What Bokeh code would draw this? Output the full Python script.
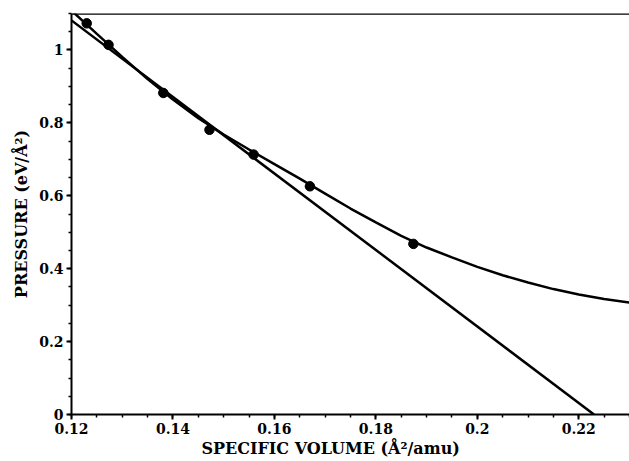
from bokeh.plotting import figure
from bokeh.models import FixedTicker, Span, Title, Range1d
from bokeh.embed import file_html
from bokeh.resources import INLINE

# measured data points
vol_pts = [0.1230, 0.1273, 0.1381, 0.1472, 0.1559, 0.1670, 0.1874]
pres_pts = [1.073, 1.014, 0.882, 0.781, 0.713, 0.626, 0.468]

# fitted curve
curve_x = [0.120, 0.125, 0.130, 0.135, 0.140, 0.145, 0.150, 0.155, 0.160, 0.165,
           0.170, 0.175, 0.180, 0.185, 0.190, 0.195, 0.200, 0.205, 0.210, 0.215,
           0.220, 0.225, 0.230]
curve_y = [1.108, 1.044, 0.981, 0.920, 0.864, 0.813, 0.768, 0.727, 0.687, 0.647,
           0.606, 0.565, 0.527, 0.490, 0.458, 0.431, 0.405, 0.382, 0.362, 0.344,
           0.329, 0.317, 0.307]

# straight line (linear fit)
line_x = [0.120, 0.223]
line_y = [1.081, 0.0]

x_ticks = [0.12, 0.14, 0.16, 0.18, 0.20, 0.22]
x_labels = ["0.12", "0.14", "0.16", "0.18", "0.2", "0.22"]
y_ticks = [0.0, 0.2, 0.4, 0.6, 0.8, 1.0]
y_labels = ["0", "0.2", "0.4", "0.6", "0.8", "1"]

FONT = "DejaVu Serif"

p = figure(width=629, height=461, output_backend="svg", toolbar_location=None,
           x_range=Range1d(0.12, 0.23), y_range=Range1d(0.0, 1.1),
           min_border_left=71, min_border_right=0, min_border_top=13,
           min_border_bottom=47)
p.outline_line_color = None
p.grid.visible = False
p.background_fill_color = "white"
p.border_fill_color = "white"

p.line(curve_x, curve_y, line_color="black", line_width=2.5)
p.line(line_x, line_y, line_color="black", line_width=2.5)
p.scatter(vol_pts, pres_pts, size=9.5, color="black", marker="circle")

p.add_layout(Span(location=1.1, dimension="width", line_color="black", line_width=2.5))

xminor = [round(0.12 + 0.005 * i, 4) for i in range(23)]
yminor = [round(0.05 * i, 3) for i in range(23)]
p.xaxis.ticker = FixedTicker(ticks=x_ticks, minor_ticks=xminor)
p.yaxis.ticker = FixedTicker(ticks=y_ticks, minor_ticks=yminor)
p.xaxis.major_label_overrides = {t: l for t, l in zip(x_ticks, x_labels)}
p.yaxis.major_label_overrides = {t: l for t, l in zip(y_ticks, y_labels)}

for ax in (p.xaxis, p.yaxis):
    ax.axis_line_width = 2
    ax.axis_line_color = "black"
    ax.major_tick_line_width = 2
    ax.minor_tick_line_width = 1.5
    ax.major_tick_out = 5
    ax.major_tick_in = 0
    ax.minor_tick_out = 3
    ax.minor_tick_in = 0
    ax.major_label_text_font = FONT
    ax.major_label_text_font_style = "bold"
    ax.major_label_text_font_size = "14px"
    ax.major_label_text_color = "black"
    ax.axis_label_text_font = FONT
    ax.axis_label_text_font_style = "bold"
    ax.axis_label_text_font_size = "16px"
    ax.axis_label_text_color = "black"

p.xaxis.major_label_standoff = 3
p.yaxis.major_label_standoff = 3
p.yaxis.axis_label = "PRESSURE (eV/Å²)"
p.yaxis.axis_label_standoff = 5

p.add_layout(Title(text="SPECIFIC VOLUME (Å²/amu)", align="left", offset=130,
                   standoff=0, text_font=FONT, text_font_style="bold",
                   text_font_size="16px", text_color="black"), "below")

open("out.html", "w").write(file_html(p, INLINE))
